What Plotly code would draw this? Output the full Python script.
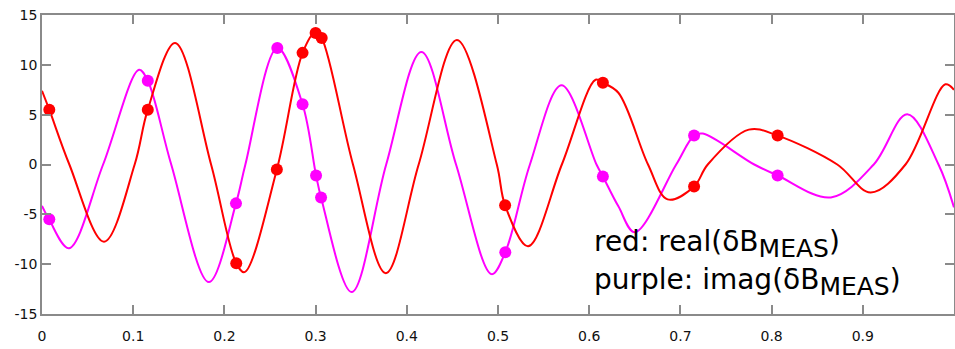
import plotly.graph_objects as go

# Red curve: real(dB_MEAS) - key points
red_x = [0.000, 0.008, 0.030, 0.068, 0.1016, 0.116, 0.146, 0.1854, 0.213, 0.222,
         0.2575, 0.2857, 0.300, 0.3067, 0.341, 0.377, 0.413, 0.455, 0.4987, 0.5078,
         0.533, 0.570, 0.607, 0.615, 0.632, 0.6645, 0.686, 0.715, 0.730, 0.775,
         0.8066, 0.872, 0.9085, 0.9468, 0.9905, 1.0]
red_y = [7.4, 5.5, 0.0, -7.75, 0.0, 5.5, 12.2, 0.0, -9.9, -10.8,
         -0.5, 11.2, 13.3, 12.7, 0.0, -10.9, 0.0, 12.5, 0.0, -4.1,
         -8.2, 0.0, 8.5, 8.2, 7.2, 0.0, -3.5, -2.2, 0.0, 3.5,
         2.9, 0.0, -2.8, 0.0, 8.05, 7.5]

# Magenta curve: imag(dB_MEAS)
mag_x = [0.000, 0.008, 0.0295, 0.067, 0.1064, 0.116, 0.1417, 0.183, 0.2127, 0.223,
         0.258, 0.2857, 0.3005, 0.306, 0.3395, 0.3774, 0.416, 0.454, 0.493, 0.508,
         0.535, 0.5697, 0.608, 0.615, 0.632, 0.650, 0.6954, 0.715, 0.7246, 0.781,
         0.8066, 0.865, 0.912, 0.9487, 0.983, 1.0]
mag_y = [-4.15, -5.55, -8.4, 0.0, 9.5, 8.4, 0.0, -11.8, -3.9, 0.0,
         11.7, 6.05, -1.1, -3.3, -12.8, 0.0, 11.3, 0.0, -11.0, -8.8,
         0.0, 7.95, 0.0, -1.2, -4.2, -6.8, 0.0, 2.9, 3.1, 0.0,
         -1.1, -3.3, 0.0, 5.05, 0.0, -4.3]

# Measured sample dots
red_dot_x = [0.008, 0.116, 0.213, 0.2575, 0.2857, 0.300, 0.3067, 0.5078, 0.615, 0.715, 0.8066]
red_dot_y = [5.5, 5.5, -9.9, -0.5, 11.2, 13.2, 12.7, -4.1, 8.2, -2.2, 2.9]
mag_dot_x = [0.008, 0.116, 0.2127, 0.258, 0.2857, 0.3005, 0.306, 0.508, 0.615, 0.715, 0.8066]
mag_dot_y = [-5.5, 8.4, -3.9, 11.7, 6.05, -1.1, -3.3, -8.8, -1.2, 2.9, -1.1]

x_ticks = [0, 0.1, 0.2, 0.3, 0.4, 0.5, 0.6, 0.7, 0.8, 0.9, 1]
x_tick_labels = ["0", "0.1", "0.2", "0.3", "0.4", "0.5", "0.6", "0.7", "0.8", "0.9", "1"]
y_ticks = [-15, -10, -5, 0, 5, 10, 15]
y_tick_labels = ["-15", "-10", "-5", "0", "5", "10", "15"]

RED = "#ff0000"
MAG = "#ff00ff"

fig = go.Figure()
fig.add_trace(go.Scatter(x=mag_x, y=mag_y, mode="lines",
                         line=dict(color=MAG, width=2, shape="spline", smoothing=1.0)))
fig.add_trace(go.Scatter(x=red_x, y=red_y, mode="lines",
                         line=dict(color=RED, width=2, shape="spline", smoothing=1.0)))
fig.add_trace(go.Scatter(x=mag_dot_x, y=mag_dot_y, mode="markers",
                         marker=dict(color=MAG, size=12, line=dict(width=0))))
fig.add_trace(go.Scatter(x=red_dot_x, y=red_dot_y, mode="markers",
                         marker=dict(color=RED, size=12, line=dict(width=0))))

font_ann = dict(family="DejaVu Sans, sans-serif", size=28, color="#000000")
sub = "<sub><span style='font-size:25px'>MEAS</span></sub>"
fig.add_annotation(x=0.603, y=-8.0, xref="x", yref="y", xanchor="left", yanchor="middle",
                   text="red: real(δB" + sub + ")", showarrow=False, font=font_ann)
fig.add_annotation(x=0.603, y=-11.8, xref="x", yref="y", xanchor="left", yanchor="middle",
                   text="purple: imag(δB" + sub + ")", showarrow=False, font=font_ann)

axis_common = dict(showgrid=False, zeroline=False, showline=True, linecolor="#8a8a8a",
                   linewidth=1.5, mirror="ticks", ticks="inside", ticklen=9,
                   tickcolor="#8a8a8a", tickwidth=1.5, automargin=False,
                   tickfont=dict(family="DejaVu Sans, sans-serif", size=14,
                                 color="#111111"))
fig.update_xaxes(range=[0, 1], tickvals=x_ticks, ticktext=x_tick_labels,
                 ticklabelstandoff=8, **axis_common)
fig.update_yaxes(range=[-15, 15], tickvals=y_ticks, ticktext=y_tick_labels, **axis_common)

fig.update_layout(width=955, height=349, showlegend=False,
                  margin=dict(l=42, r=1, t=15, b=35),
                  paper_bgcolor="white", plot_bgcolor="white")

fig.write_html("out.html", config={"displayModeBar": False},
               post_script="document.body.style.margin='0';document.body.style.overflow='hidden';")
